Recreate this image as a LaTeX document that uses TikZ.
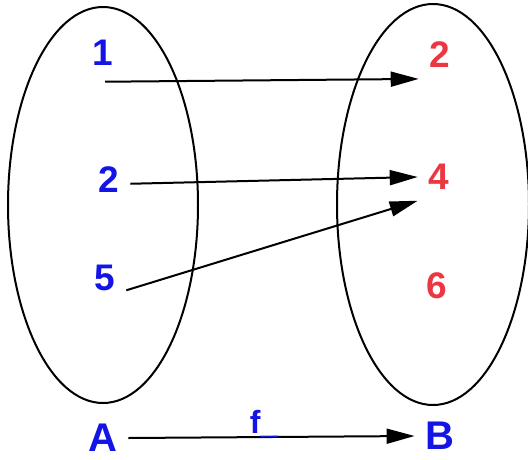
\documentclass[tikz,border=0pt]{standalone}
\usepackage{fontspec}
\setmainfont{Liberation Sans}
\usetikzlibrary{arrows.meta}
\definecolor{setblue}{RGB}{20,20,230}
\definecolor{setred}{RGB}{235,55,65}

\begin{document}
\begin{tikzpicture}[x=1pt, y=-1pt, line width=2pt]
  \tikzstyle{elemA}=[setblue, inner sep=10pt, font=\fontsize{37}{37}\selectfont\bfseries]
  \tikzstyle{elemB}=[elemA, setred]
  \tikzstyle{setname}=[setblue, inner sep=10pt, font=\fontsize{40}{40}\selectfont\bfseries]
  \tikzstyle{map}=[-{Triangle[length=28pt, width=15pt]}]

  \useasboundingbox (0,0) rectangle (528,459);

  \coordinate (cA) at (103,205);
  \coordinate (cB) at (433,204.5);

  % Sets
  \draw (cA) ellipse [x radius=95pt, y radius=198pt];
  \draw (cB) ellipse [x radius=96pt, y radius=200.5pt];

  %% Labels
  % domain
  \node[elemA] (a1) at (103,53) {1};
  \node[elemA] (a2) at (109,180) {2};
  \node[elemA] (a5) at (105,278) {5};
  % codomain
  \node[elemB] (b2) at (440,55) {2};
  \node[elemB] (b4) at (439,177) {4};
  \node[elemB] (b6) at (437,286) {6};
  % set names
  \node[setname] (A) at (103,438) {A};
  \node[setname] (B) at (440,436) {B};

  % Arrows
  \draw[map] ([yshift=-5pt]a1.-85) -- (b2.south west);
  \draw[map] (a2.-10) -- (b4.west);
  \draw[map] (a5.-30) -- (b4.south west);
  \draw[map] (A.east) -- (B.west)
    node[midway, anchor=base, xshift=-7.5pt, yshift=4pt, setblue,
      font=\fontsize{32}{32}\selectfont\bfseries] {f\_};
\end{tikzpicture}
\end{document}
